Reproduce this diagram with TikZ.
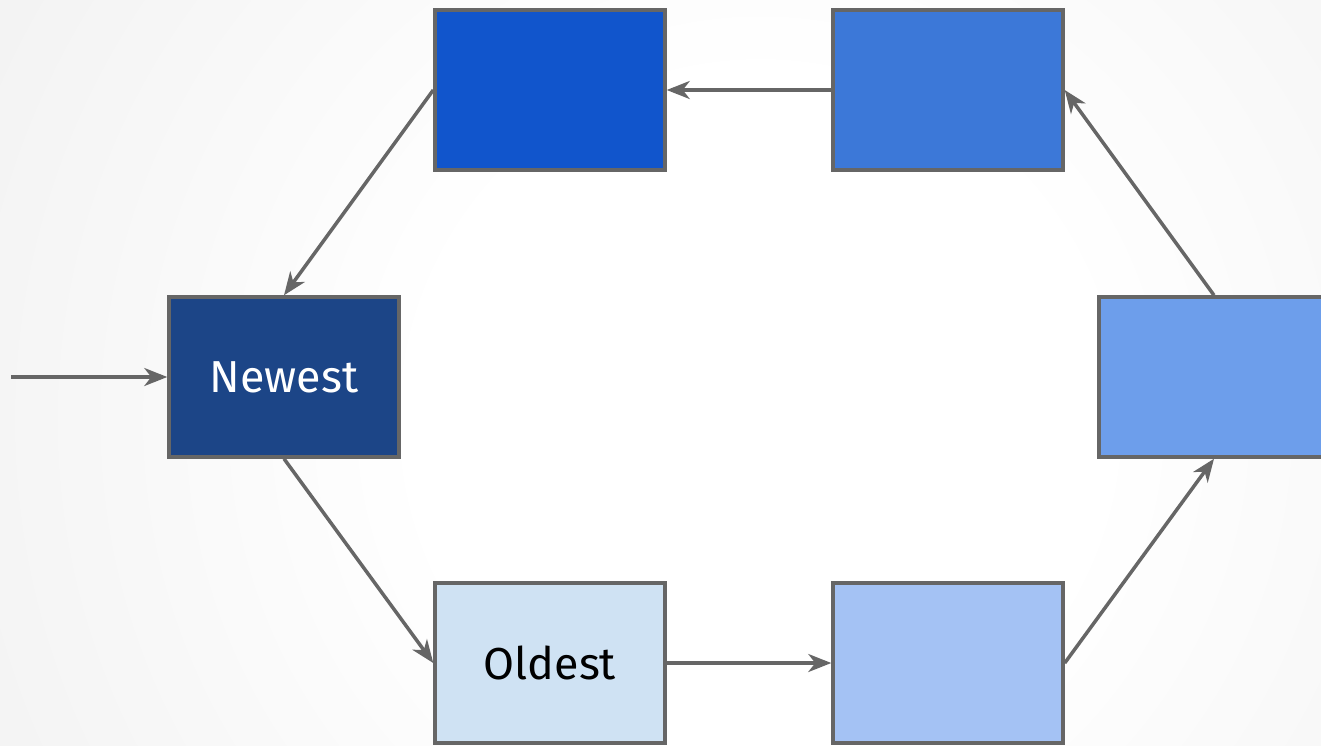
\documentclass[tikz,border=0pt]{standalone}
\usepackage{fontspec}
\setmainfont{Fira Sans}
\usetikzlibrary{arrows.meta,positioning}
\definecolor{edgegray}{HTML}{666666}
\definecolor{newblue}{HTML}{1C4587}
\definecolor{topleft}{HTML}{1155CC}
\definecolor{topright}{HTML}{3C78D8}
\definecolor{midright}{HTML}{6D9EEB}
\definecolor{lowright}{HTML}{A4C2F4}
\definecolor{oldblue}{HTML}{CFE2F3}
\pgfdeclareradialshading{slidebg}{\pgfpoint{0bp}{0bp}}{color(0bp)=(white); color(10bp)=(white); color(42bp)=(black!10); color(50bp)=(black!10)}
\tikzset{
  buf/.style={draw=edgegray,line width=0.07cm,minimum width=4.6cm,minimum height=3.2cm,inner sep=0pt,font=\fontsize{25.5}{30}\selectfont},
  link/.style={draw=edgegray,line width=0.07cm,-{Stealth[length=0.46cm,width=0.36cm,inset=0.14cm]}}
}
\begin{document}
\begin{tikzpicture}[x=0.02cm,y=-0.02cm]
\useasboundingbox (0,0) rectangle (1321,745);
\clip (0,0) rectangle (1321,745);
\shade[shading=slidebg] (-90,-430) rectangle (1610,1270);
\node[buf,fill=newblue,text=white] (0) at (284,377) {Newest};
\node[buf,fill=topleft] (1) at (550,90) {};
\node[buf,fill=topright] (2) at (948,90) {};
\node[buf,fill=midright] (3) at (1214,377) {};
\node[buf,fill=lowright] (4) at (948,663) {};
\node[buf,fill=oldblue] (5) at (550,663) {Oldest};
\coordinate (in) at (11,377);
\draw[link] (in) to (0.west);
\draw[link] (1.west) to (0.north);
\draw[link] (0.south) to (5.west);
\draw[link] (5.east) to (4.west);
\draw[link] (4.east) to (3.south);
\draw[link] (3.north) to (2.east);
\draw[link] (2.west) to (1.east);
\end{tikzpicture}
\end{document}
